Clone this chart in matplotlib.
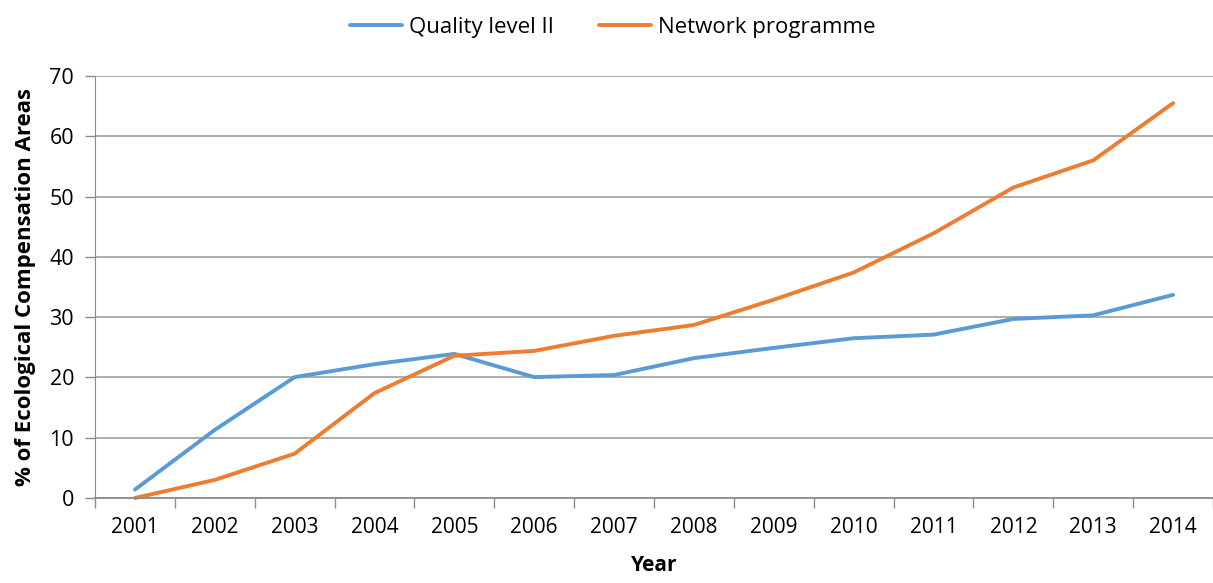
import numpy as np
import matplotlib.pyplot as plt

# data
years = ['2001', '2002', '2003', '2004', '2005', '2006', '2007',
         '2008', '2009', '2010', '2011', '2012', '2013', '2014']
quality_level_2 = [1.4, 11.3, 20.05, 22.2, 23.9, 20.05, 20.4,
                   23.2, 24.9, 26.5, 27.1, 29.7, 30.3, 33.7]
network_programme = [0.0, 3.0, 7.35, 17.4, 23.6, 24.4, 26.9,
                     28.7, 32.9, 37.4, 43.9, 51.5, 56.0, 65.5]

plt.rcParams['font.family'] = ['Open Sans', 'DejaVu Sans']

fig = plt.figure(figsize=(12.13, 5.83), dpi=100)
ax = fig.add_axes([95 / 1213, 1 - 498 / 583, 1118 / 1213, 422 / 583])

x = np.arange(1, len(years) + 1)
ax.plot(x, quality_level_2, color='#5b9bd5', linewidth=2.8, label='Quality level II',
        solid_capstyle='round', clip_on=False)
ax.plot(x, network_programme, color='#ed7d31', linewidth=2.8, label='Network programme',
        solid_capstyle='round', clip_on=False)

# axes and grid
ax.set_xlim(0.5, len(years) + 0.5)
ax.set_ylim(0, 70)
ax.set_yticks(np.arange(0, 71, 10))
ax.set_xticks(x)
ax.set_xticklabels(years)
ax.set_xticks(np.arange(0.5, len(years) + 1, 1), minor=True)
ax.tick_params(axis='x', which='major', length=0, pad=14, labelsize=15)
ax.tick_params(axis='x', which='minor', length=7, color='#8c8c8c', width=1)
ax.tick_params(axis='y', length=7, color='#8c8c8c', width=1, pad=8, labelsize=15.5)
ax.grid(axis='y', color='#a6a6a6', linewidth=1.3)
ax.set_axisbelow(True)
for side in ['top', 'right']:
    ax.spines[side].set_visible(False)
ax.spines['left'].set_color('#8c8c8c')
ax.spines['bottom'].set_color('#8c8c8c')
ax.spines['bottom'].set_linewidth(1.3)

ax.set_xlabel('Year', fontsize=15, fontweight='bold', labelpad=12)
ax.set_ylabel('% of Ecological Compensation Areas', fontsize=16, fontweight='bold', labelpad=10)

fig.legend(loc='upper center', bbox_to_anchor=(0.505, 1.005), ncol=2, frameon=False,
           fontsize=16, handlelength=2.35, columnspacing=2.05, handletextpad=0.3)

fig.savefig('out.png', dpi=100)
